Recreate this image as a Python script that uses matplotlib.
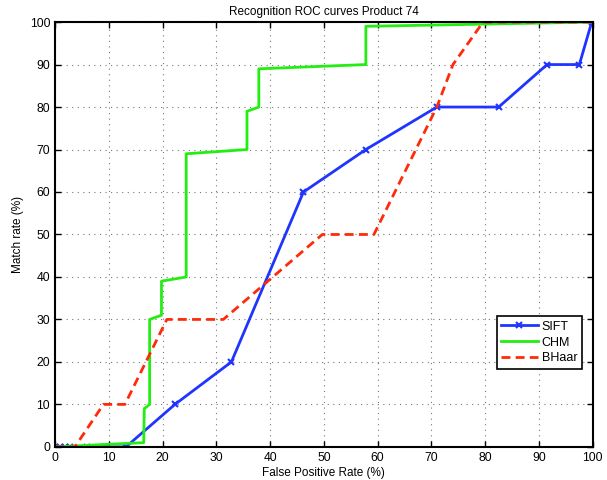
import matplotlib
matplotlib.use("Agg")
import matplotlib.pyplot as plt

plt.rcParams['font.family'] = ['Liberation Sans', 'DejaVu Sans']

# ROC points (false positive rate %, match rate %)
sift_fpr = [0, 0.9, 1.9, 2.8, 5.9, 9.3, 13.2, 22.3, 32.8, 46.2, 57.8, 71, 82.5, 91.5, 97.5, 99.8]
sift_tpr = [0, 0, 0, 0, 0, 0, 0, 10, 20, 60, 70, 80, 80, 90, 90, 100]

chm_fpr = [0, 16.5, 16.6, 17.6, 17.6, 19.8, 19.8, 24.4, 24.4, 35.7, 35.7, 37.9, 37.9, 57.8, 57.8, 100]
chm_tpr = [0, 1, 9, 10, 30, 31, 39, 40, 69, 70, 79, 80, 89, 90, 99, 100]

bhaar_fpr = [0, 3.7, 9, 13, 20.8, 31.3, 49.7, 59.3, 71, 74, 79.6, 100]
bhaar_tpr = [0, 0, 10, 10, 30, 30, 50, 50, 80, 90, 100, 100]

ticks = list(range(0, 101, 10))

fig = plt.figure(figsize=(6.07, 4.8), dpi=100)
ax = fig.add_axes([0.0906, 0.069, 0.886, 0.885])

ax.plot(sift_fpr, sift_tpr, color='#1f35ff', lw=2, marker='x', ms=5, mew=1.5, label='SIFT')
ax.plot(chm_fpr, chm_tpr, color='#22ee11', lw=2, label='CHM')
ax.plot(bhaar_fpr, bhaar_tpr, color='#ff2a0a', lw=2, ls=(0, (3.2, 1.9)), label='BHaar')

ax.set_xlim(0, 100)
ax.set_ylim(0, 100)
ax.set_xticks(ticks)
ax.set_yticks(ticks)
ax.tick_params(direction='in', top=True, right=True, labelsize=8.7, length=4, width=1)
ax.grid(True, ls=(0, (1, 4)), color='#777777', lw=0.8)
for s in ax.spines.values():
    s.set_linewidth(1.5)

ax.set_title('Recognition ROC curves Product 74', fontsize=8.5, pad=5)
ax.set_xlabel('False Positive Rate (%)', fontsize=8.5, labelpad=2)
ax.set_ylabel('Match rate (%)', fontsize=8.5, labelpad=4)

leg = ax.legend(loc='upper right', bbox_to_anchor=(0.979, 0.307), borderaxespad=0,
                fontsize=9, fancybox=False, framealpha=1, edgecolor='black',
                handlelength=2.95, borderpad=0.35, labelspacing=0.3, handletextpad=0.3)
leg.get_frame().set_linewidth(1.2)

fig.savefig('out.png', dpi=100)
